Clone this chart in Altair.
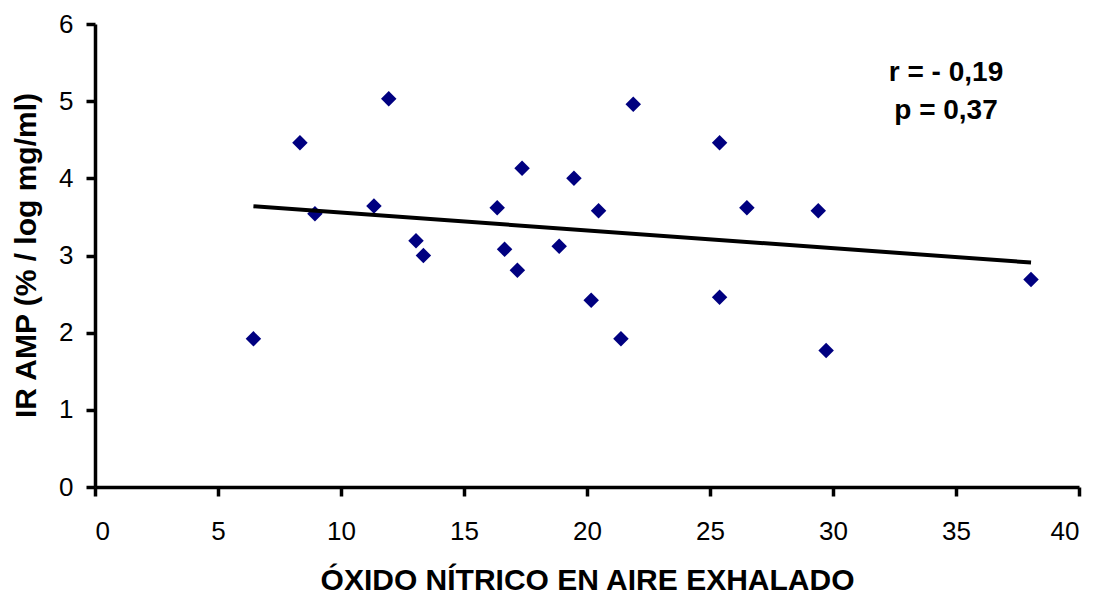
import altair as alt
import pandas as pd

# Data
no_exhaled = [6.44, 8.33, 8.94, 11.34, 11.94, 13.05, 13.35, 16.35, 16.65, 17.17, 17.36, 18.87,
              19.47, 20.17, 20.47, 21.38, 21.88, 25.39, 25.39, 26.5, 29.4, 29.72, 38.05]
ir_amp = [1.92, 4.46, 3.54, 3.64, 5.03, 3.19, 3.00, 3.62, 3.08, 2.81, 4.13, 3.12,
          4.00, 2.42, 3.58, 1.92, 4.96, 4.46, 2.46, 3.62, 3.58, 1.77, 2.69]
x_ticks = [0, 5, 10, 15, 20, 25, 30, 35, 40]
y_ticks = [0, 1, 2, 3, 4, 5, 6]
stat_r = "r = - 0,19"
stat_p = "p = 0,37"

df = pd.DataFrame({"no": no_exhaled, "ir": ir_amp})

FONT = "Liberation Sans"

x_enc = alt.X(
    "no:Q",
    scale=alt.Scale(domain=[0, 40], nice=False, zero=True),
    axis=alt.Axis(
        values=x_ticks,
        title="ÓXIDO NÍTRICO EN AIRE EXHALADO",
        titleY=102,
        titleBaseline="alphabetic",
        labelPadding=22,
    ),
)
y_enc = alt.Y(
    "ir:Q",
    scale=alt.Scale(domain=[0, 6], nice=False, zero=True),
    axis=alt.Axis(
        values=y_ticks,
        title="IR AMP (% / log mg/ml)",
        titleAngle=-90,
        titleX=-60,
        titleY=231,
        titleAlign="center",
        titleBaseline="alphabetic",
        labelPadding=13,
    ),
)

points = alt.Chart(df).mark_point(
    shape="diamond", filled=True, size=240, color="#000080", opacity=1
).encode(x=x_enc, y=y_enc)

trend = alt.Chart(df).transform_regression("no", "ir").mark_line(
    color="black", strokeWidth=4
).encode(x=x_enc, y=y_enc)

txt_r = alt.Chart(pd.DataFrame({"t": [stat_r]})).mark_text(
    font=FONT, fontSize=28, fontWeight="bold", align="center", baseline="alphabetic", color="black"
).encode(x=alt.value(851), y=alt.value(57), text="t:N")

txt_p = alt.Chart(pd.DataFrame({"t": [stat_p]})).mark_text(
    font=FONT, fontSize=28, fontWeight="bold", align="center", baseline="alphabetic", color="black"
).encode(x=alt.value(851), y=alt.value(95), text="t:N")

chart = alt.layer(points, trend, txt_r, txt_p).properties(
    width=984,
    height=463,
    padding={"left": 87, "top": 16, "right": 15, "bottom": 107},
    autosize=alt.AutoSizeParams(type="none"),
    background="white",
).configure_view(stroke=None).configure_axis(
    grid=False,
    domainColor="black",
    domainWidth=3.5,
    tickColor="black",
    tickWidth=3.5,
    tickSize=9,
    labelFont=FONT,
    labelFontSize=26,
    labelColor="black",
    titleFont=FONT,
    titleFontSize=30,
    titleFontWeight="bold",
    titleColor="black",
)

chart.save("out.html", embed_options={"renderer": "svg", "actions": False})
